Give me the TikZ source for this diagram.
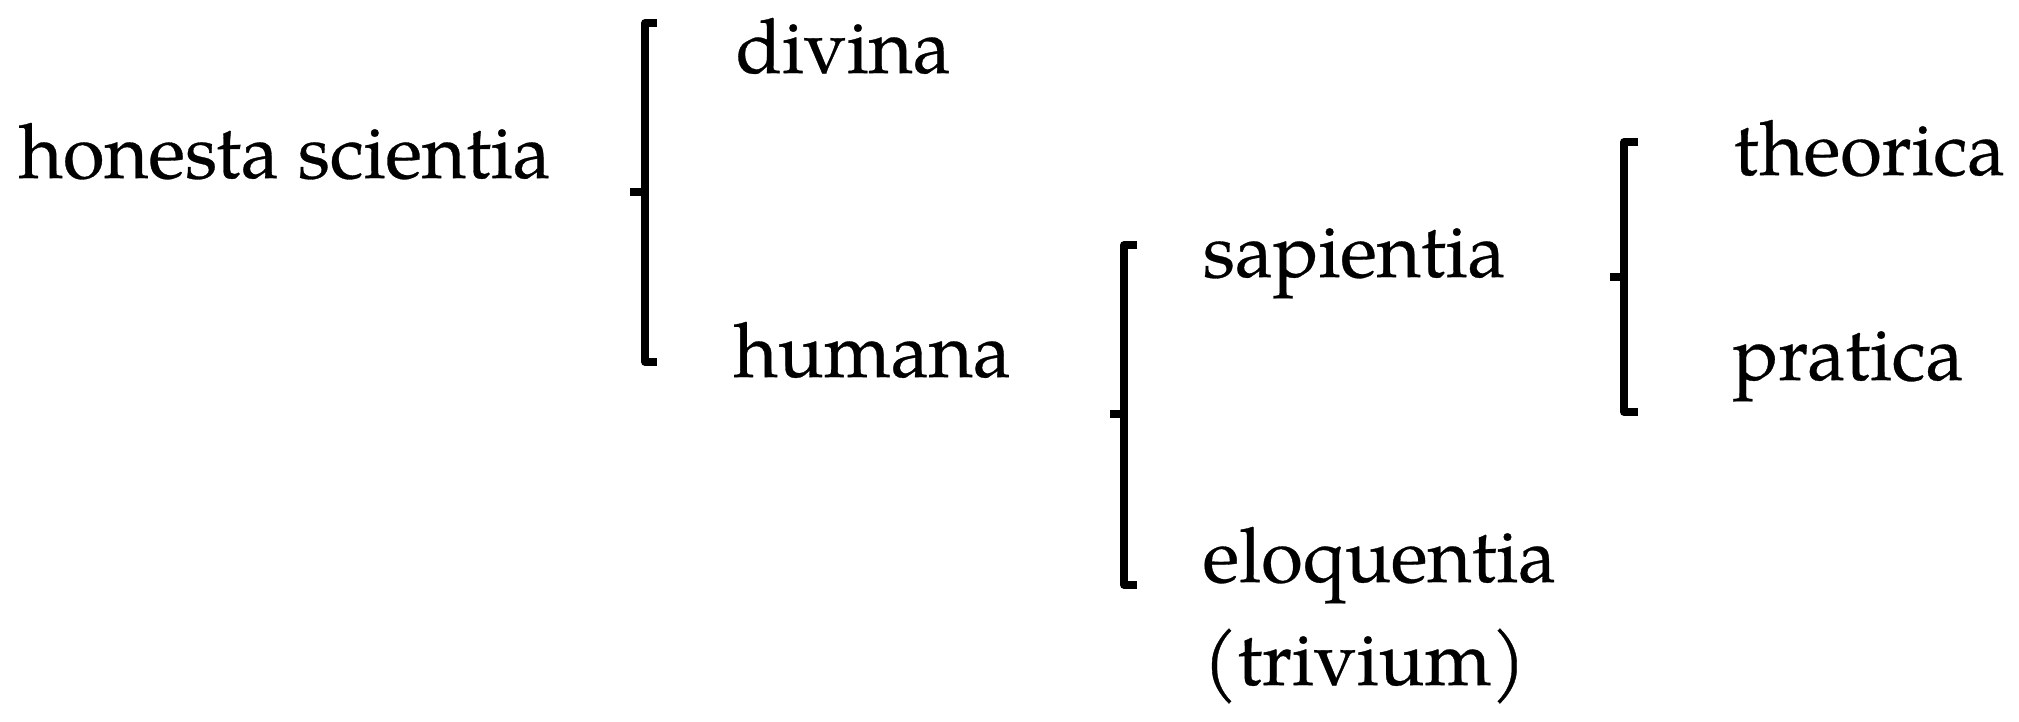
\documentclass[tikz,border=0pt]{standalone}
\usepackage{fontspec}
\setmainfont{texgyrepagella-regular.otf}[FakeBold=0.4]
\begin{document}
\begin{tikzpicture}[x=0.01cm,y=-0.01cm,
  lbl/.style={anchor=base west,inner sep=0pt,font=\fontsize{21.6pt}{29pt}\selectfont},
  brk/.style={line width=0.075cm,line join=round,line cap=butt}]
\useasboundingbox (0,0) rectangle (2019,721);
% labels
\node[lbl] (hs) at (18,178) {honesta scientia};
\node[lbl] (div) at (735,73) {divina};
\node[lbl] (hum) at (733,377) {humana};
\node[lbl] (sap) at (1202,277) {sapientia};
\node[lbl] (elo) at (1202,582) {eloquentia};
\node[lbl] (tri) at (1202,685) {(trivium)};
\node[lbl] (the) at (1733,175) {theorica};
\node[lbl] (pra) at (1732,380) {pratica};
% bracket 1
\coordinate (b1t) at (657,23);
\coordinate (b1b) at (657,362);
\coordinate (b1m) at (630,192);
\draw[brk] (b1t) -- (645,23) -- (645,362) -- (b1b);
\draw[brk] (b1m) -- (645,192);
% bracket 2
\coordinate (b2t) at (1137,245);
\coordinate (b2b) at (1137,585);
\coordinate (b2m) at (1110,414);
\draw[brk] (b2t) -- (1124,245) -- (1124,585) -- (b2b);
\draw[brk] (b2m) -- (1124,414);
% bracket 3
\coordinate (b3t) at (1638,142);
\coordinate (b3b) at (1638,412);
\coordinate (b3m) at (1610,277);
\draw[brk] (b3t) -- (1624,142) -- (1624,412) -- (b3b);
\draw[brk] (b3m) -- (1624,277);
\end{tikzpicture}
\end{document}
